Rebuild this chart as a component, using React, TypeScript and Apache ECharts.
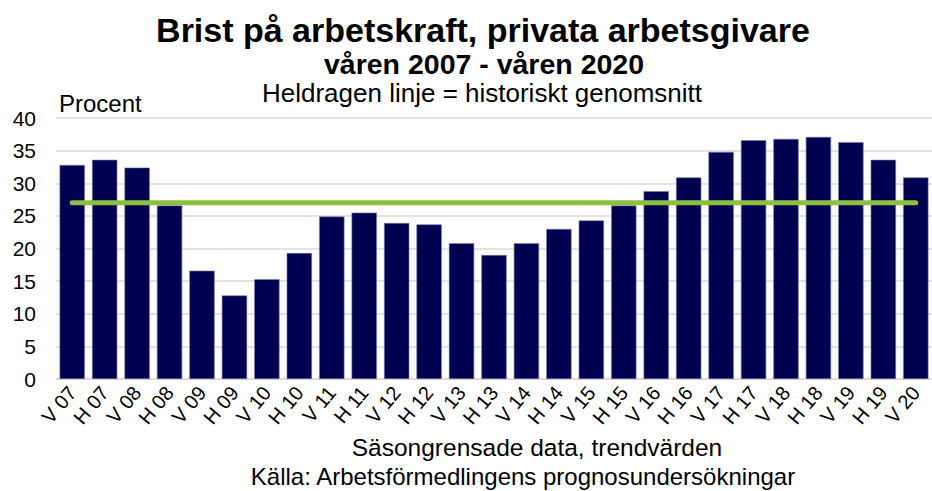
import React, { useEffect, useRef } from "react";
import * as echarts from "echarts";

const categories = ["V 07","H 07","V 08","H 08","V 09","H 09","V 10","H 10","V 11","H 11","V 12","H 12","V 13","H 13","V 14","H 14","V 15","H 15","V 16","H 16","V 17","H 17","V 18","H 18","V 19","H 19","V 20"];
const shortageValues = [32.8,33.6,32.4,26.6,16.6,12.8,15.3,19.3,24.9,25.5,23.9,23.7,20.8,19.0,20.8,23.0,24.3,26.6,28.8,30.9,34.8,36.6,36.8,37.1,36.3,33.6,30.9];
const historicalAverage = 27.0;
const averageValues = categories.map(() => historicalAverage);
const yTicks = [0, 5, 10, 15, 20, 25, 30, 35, 40];

const FONT = "Liberation Sans, Arial, sans-serif";

function t(text: string, left: number, top: number, size: number, bold: boolean, center = true) {
  return {
    text, left, top, padding: 0,
    textAlign: center ? "center" : "left",
    textStyle: { fontFamily: FONT, fontSize: size, lineHeight: size, fontWeight: bold ? "bold" : "normal", color: "#000" },
  };
}

export default function App() {
  const ref = useRef<HTMLDivElement>(null);
  useEffect(() => {
    if (!ref.current) return;
    const chart = echarts.init(ref.current, null, { renderer: "svg" });
    chart.setOption({
      animation: false,
      backgroundColor: "#ffffff",
      textStyle: { fontFamily: FONT, color: "#000" },
      title: [
        t("Brist på arbetskraft, privata arbetsgivare", 483, 13, 34, true),
        t("våren 2007 - våren 2020", 484, 49.5, 28.5, true),
        t("Heldragen linje = historiskt genomsnitt", 482, 80, 26, false),
        t("Procent", 59, 91, 24, false, false),
        t("Säsongrensade data, trendvärden", 537, 435, 24.5, false),
        t("Källa: Arbetsförmedlingens prognosundersökningar", 523, 464, 24, false),
      ],
      grid: { left: 56, top: 118, width: 886, height: 261, containLabel: false },
      xAxis: {
        type: "category",
        data: categories,
        axisLine: { show: true, lineStyle: { color: "#d9d9d9", width: 1.5 } },
        axisTick: { show: false },
        axisLabel: {
          rotate: 50, interval: 0, color: "#000", margin: 10,
          textStyle: { fontFamily: FONT, fontSize: 20 },
          fontFamily: FONT, fontSize: 20,
        },
      },
      yAxis: {
        type: "value",
        min: 0,
        max: 40,
        interval: 5,
        axisLine: { show: false },
        axisTick: { show: false },
        splitLine: { lineStyle: { color: "#d9d9d9", width: 1.5 } },
        axisLabel: { fontFamily: FONT, fontSize: 21, color: "#000", margin: 20,
          formatter: (v: number) => (yTicks.includes(v) ? String(v) : "") },
      },
      series: [
        {
          type: "bar",
          data: shortageValues,
          barCategoryGap: "22%",
          itemStyle: { color: "#000050", borderColor: "#7a7aa8", borderWidth: 0.6 },
        },
        {
          type: "line",
          data: averageValues,
          symbol: "none",
          lineStyle: { color: "#8dc03f", width: 5, cap: "round" },
          z: 5,
        },
      ],
    });
    return () => chart.dispose();
  }, []);
  return (
    <div
      ref={ref}
      style={{ position: "fixed", left: 0, top: 0, width: 932, height: 491, overflow: "hidden" }}
    />
  );
}
